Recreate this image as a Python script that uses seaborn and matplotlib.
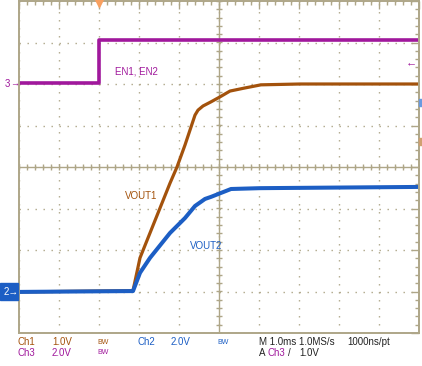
import numpy as np
import pandas as pd
import matplotlib
matplotlib.use("Agg")
import matplotlib.pyplot as plt
import matplotlib.patches as patches
from matplotlib.ticker import MultipleLocator
import seaborn as sns

# Scope traces: time in ms (1 ms/div, trigger at -3 div), amplitude in divisions
en_t = [-5.0, -3.0, -3.0, 5.0]
en_v = [2.02, 2.02, 3.06, 3.06]

vout1_t = [-5.0, -2.15, -1.975, -1.725, -1.475, -1.225, -1.05, -0.85, -0.725,
           -0.6, -0.525, -0.4, -0.2, 0.025, 0.275, 0.625, 1.05, 2.025, 5.0]
vout1_v = [-3.01, -2.98, -2.19, -1.59, -0.99, -0.39, 0.0, 0.53, 0.89,
           1.25, 1.37, 1.47, 1.57, 1.69, 1.83, 1.90, 1.98, 2.0, 2.0]

vout2_t = [-5.0, -2.15, -1.975, -1.725, -1.225, -0.85, -0.6, -0.35, -0.2,
           0.3, 1.025, 5.0]
vout2_v = [-3.01, -2.99, -2.55, -2.19, -1.59, -1.23, -0.94, -0.77, -0.72,
           -0.53, -0.51, -0.48]

trig_t = -3.0

purple = "#a0189c"
orange = "#a3520c"
blue = "#1c5ec4"
grid_c = "#aea688"

sns.set_style("white")
plt.rcParams['font.family'] = ['Liberation Sans', 'DejaVu Sans']

W, H = 422, 366
fig = plt.figure(figsize=(W / 100, H / 100), dpi=100)
ax = fig.add_axes([19 / W, 33 / H, 400 / W, 332 / H])


def px(x, y):
    return x / W, 1 - y / H


# graticule
ax.set_xlim(-5, 5)
ax.set_ylim(-4, 4)
ax.xaxis.set_major_locator(MultipleLocator(1))
ax.yaxis.set_major_locator(MultipleLocator(1))
ax.xaxis.set_minor_locator(MultipleLocator(0.2))
ax.yaxis.set_minor_locator(MultipleLocator(0.2))
ax.grid(True, which='major', color=grid_c, linestyle=(0, (1, 4.76)), linewidth=1.0)
ax.tick_params(which='both', direction='in', top=True, right=True,
               labelbottom=False, labelleft=False, color=grid_c, width=1.0)
ax.tick_params(which='major', length=5.5)
ax.tick_params(which='minor', length=3)
for s in ax.spines.values():
    s.set_color(grid_c)
    s.set_linewidth(1.4)
ax.axhline(0, color=grid_c, lw=1.0)
ax.axvline(0, color=grid_c, lw=1.0)
minor = np.arange(-5, 5.01, 0.2)
ax.plot(minor, np.zeros_like(minor), ls='none', marker='|', ms=5, mew=1.0, color=grid_c)
minor_y = np.arange(-4, 4.01, 0.2)
ax.plot(np.zeros_like(minor_y), minor_y, ls='none', marker='_', ms=5, mew=1.0, color=grid_c)

# traces
en = pd.DataFrame({"t": en_t, "v": en_v})
v1 = pd.DataFrame({"t": vout1_t, "v": vout1_v})
v2 = pd.DataFrame({"t": vout2_t, "v": vout2_v})
sns.lineplot(data=v1, x="t", y="v", ax=ax, color=orange, lw=2.3, sort=False, estimator=None)
sns.lineplot(data=en, x="t", y="v", ax=ax, color=purple, lw=2.6, sort=False, estimator=None)
sns.lineplot(data=v2, x="t", y="v", ax=ax, color=blue, lw=2.9, sort=False, estimator=None)
ax.set_xlabel("")
ax.set_ylabel("")

# trigger position marker
ax.plot([trig_t], [4.0], marker='v', ms=8, color="#f8a060", clip_on=False, zorder=5)

# labels on traces
fig.text(*px(115, 71), "EN1, EN2", color=purple, fontsize=7, va='center')
fig.text(*px(125, 196), "VOUT1", color=orange, fontsize=7, va='center')
fig.text(*px(190, 246), "VOUT2", color=blue, fontsize=7, va='center')

# channel markers on the left / right
fig.text(*px(5, 84), "3", color=purple, fontsize=7, va='center')
fig.text(*px(10, 84), "→", color=purple, fontsize=6.5, va='center')
fig.patches.append(patches.Rectangle(px(0, 300), 18 / W, 17 / H, transform=fig.transFigure,
                                     color=blue, zorder=3))
fig.text(*px(4, 292), "2→", color="white", fontsize=7, va='center', zorder=4)
fig.text(*px(406, 62), "←", color=purple, fontsize=8, va='center')
fig.patches.append(patches.Rectangle(px(419, 106), 3 / W, 7 / H, transform=fig.transFigure,
                                     color="#6a9ae0", zorder=3))
fig.patches.append(patches.Rectangle(px(419, 145), 3 / W, 7 / H, transform=fig.transFigure,
                                     color="#d0a070", zorder=3))

# readout at the bottom
fs = 7
r1, r2 = 342, 353
fig.text(*px(18, r1), "Ch1", color=orange, fontsize=fs, va='center')
fig.text(*px(52, r1), "1.0V", color=orange, fontsize=fs, va='center')
fig.text(*px(97, r1), "BW", color=orange, fontsize=5, va='center')
fig.text(*px(138, r1), "Ch2", color=blue, fontsize=fs, va='center')
fig.text(*px(171, r1), "2.0V", color=blue, fontsize=fs, va='center')
fig.text(*px(217, r1), "BW", color=blue, fontsize=5, va='center')
fig.text(*px(259, r1), "M 1.0ms 1.0MS/s", color="#222222", fontsize=fs, va='center')
fig.text(*px(347, r1), "1000ns/pt", color="#222222", fontsize=fs, va='center')
fig.text(*px(18, r2), "Ch3", color=purple, fontsize=fs, va='center')
fig.text(*px(52, r2), "2.0V", color=purple, fontsize=fs, va='center')
fig.text(*px(97, r2), "BW", color=purple, fontsize=5, va='center')
fig.text(*px(259, r2), "A", color="#222222", fontsize=fs, va='center')
fig.text(*px(268, r2), "Ch3", color=purple, fontsize=fs, va='center')
fig.text(*px(288, r2), "/", color="#222222", fontsize=fs, va='center')
fig.text(*px(299, r2), "1.0V", color="#222222", fontsize=fs, va='center')

fig.savefig("out.png", dpi=100)
